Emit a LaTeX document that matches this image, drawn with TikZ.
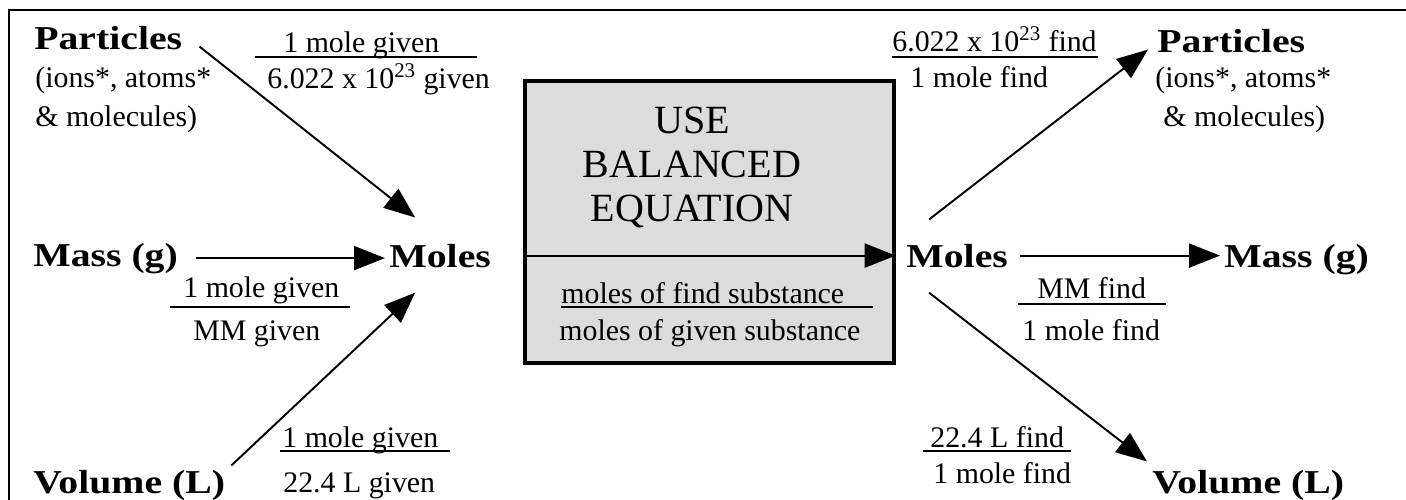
\documentclass[tikz,border=0pt]{standalone}
\usepackage{fontspec}
\setmainfont{Liberation Serif}
\newfontfamily\widefont{Liberation Serif}[FakeStretch=1.19]
\usetikzlibrary{arrows.meta, calc}
\definecolor{boxgray}{HTML}{DCDCDC}
\tikzset{
  qty/.style={font=\widefont\bfseries\fontsize{19}{22}\selectfont,
              inner sep=0pt, anchor=base west},
  note/.style={font=\fontsize{17}{20}\selectfont, inner sep=0pt, anchor=base west},
  fracbar/.style={line width=0.8pt},
  arr/.style={-{Triangle[length=0.62cm, width=0.48cm]}, line width=1.1pt},
  eqbox/.style={rectangle, draw=black, fill=boxgray, line width=2pt,
                minimum width=7.38cm, minimum height=5.64cm, inner sep=0pt},
}

\begin{document}
\begin{tikzpicture}[x=0.02cm, y=-0.02cm]
  \useasboundingbox (0,0) rectangle (1406,500);
  \draw[line width=1.2pt] (9,500) -- (9,10) -- (1406,10);

  % centre box
  \node[eqbox] (eqbox) at (709.5,222) {};
  \node[font=\fontsize{22.8}{25}\selectfont, align=center, inner sep=0pt, anchor=north]
    (usetxt) at (692,107) {USE\\BALANCED\\EQUATION};

  % given side
  \node[qty] (partL) at (34,50) {Particles};
  \node[note] (ionsL) at (35,88) {(ions*, atoms*};
  \node[note] (molecL) at (35,127) {\& molecules)};
  \node[qty] (massL) at (33,266) {Mass (g)};
  \node[qty] (volL) at (33,493) {Volume (L)};
  \node[qty] (molesL) at (389,267) {Moles};

  % find side
  \node[qty] (molesR) at (906,267) {Moles};
  \node[qty] (partR) at (1157,53) {Particles};
  \node[note] (ionsR) at (1155,88) {(ions*, atoms*};
  \node[note] (molecR) at (1163,127) {\& molecules)};
  \node[qty] (massR) at (1224,267) {Mass (g)};
  \node[qty] (volR) at (1152,493) {Volume (L)};

  % arrows
  \draw[arr] ([shift={(17,8)}]partL.east) -- ([shift={(-25,-26)}]molesL.north);
  \draw[arr] ([shift={(18,0)}]massL.east) -- ([shift={(-4,0)}]molesL.west |- massL.east);
  \draw[arr] ([shift={(6,-4)}]volL.north east) -- ([shift={(-25,25)}]molesL.south);
  \draw[arr] (eqbox.west |- molesL.west) -- (eqbox.east |- molesL.west);
  \draw[arr] ([shift={(-28,-24)}]molesR.north) -- ([shift={(-9,8)}]partR.west);
  \draw[arr] ([shift={(12,0)}]molesR.east) -- ([shift={(-4,0)}]massR.west |- molesR.east);
  \draw[arr] ([shift={(-28,25)}]molesR.south) -- ([shift={(-5,-8)}]volR.north west);

  % conversion factors
  \node[note] (numA) at (283,53) {1 mole given};
  \node[note] (denA) at (267,89) {6.022 x 10\textsuperscript{23} given};
  \draw[fracbar] (255,57) -- (477,57);
  \node[note] (numB) at (183,297) {1 mole given};
  \node[note] (denB) at (193,340) {MM given};
  \draw[fracbar] (170,307) -- (350,307);
  \node[note] (numC) at (282,447) {1 mole given};
  \node[note] (denC) at (283,492) {22.4 L given};
  \draw[fracbar] (280,451) -- (450,451);
  \node[note] (numD) at (561,303) {moles of find substance};
  \node[note] (denD) at (559,340) {moles of given substance};
  \draw[fracbar] (561,307) -- (873,307);
  \node[note] (numE) at (892,52) {6.022 x 10\textsuperscript{23} find};
  \node[note] (denE) at (910,88) {1 mole find};
  \draw[fracbar] (892,57) -- (1098,57);
  \node[note] (numF) at (1037,298) {MM find};
  \node[note] (denF) at (1022,340) {1 mole find};
  \draw[fracbar] (1018,304) -- (1166,304);
  \node[note] (numG) at (930,447) {22.4 L find};
  \node[note] (denG) at (933,483) {1 mole find};
  \draw[fracbar] (923,451) -- (1071,451);
\end{tikzpicture}
\end{document}
